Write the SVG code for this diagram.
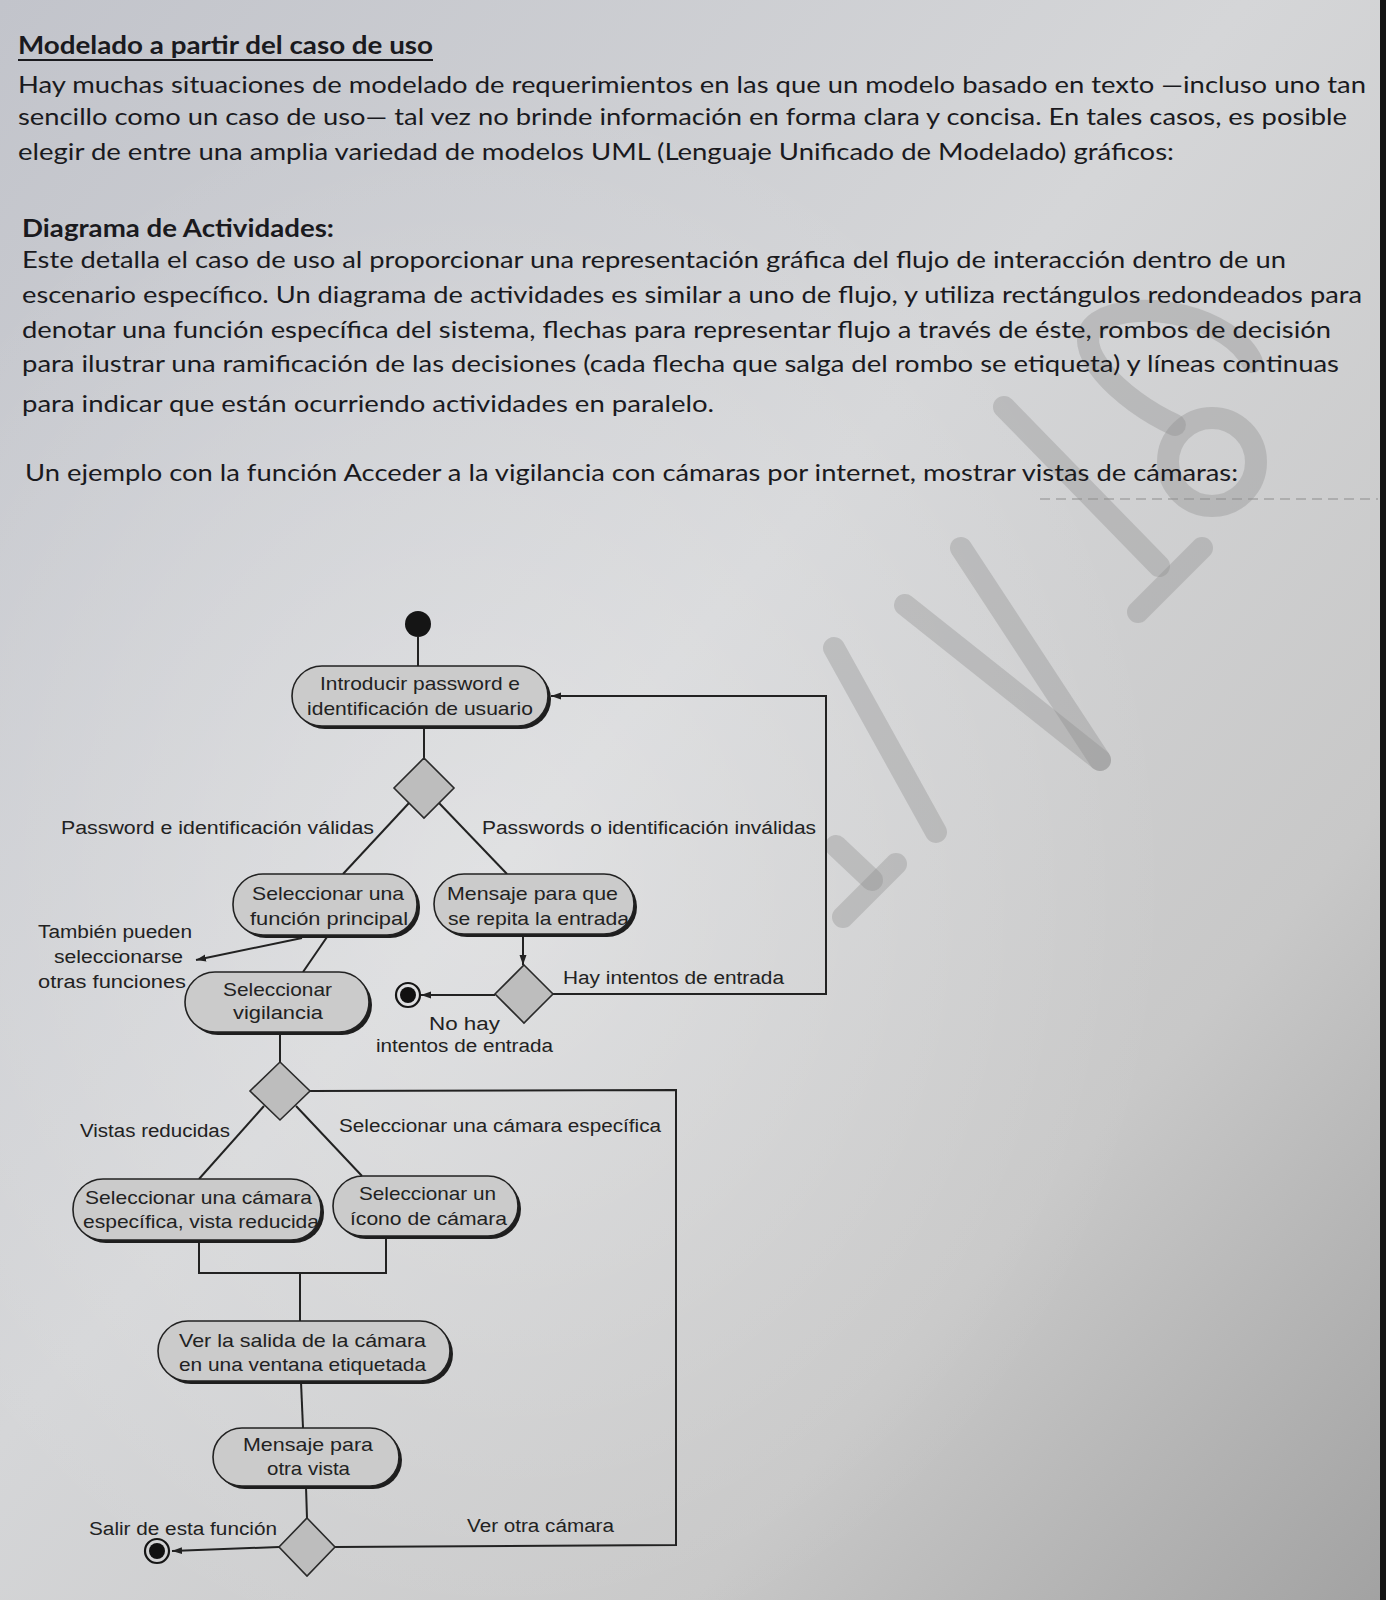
<svg xmlns="http://www.w3.org/2000/svg" width="1386" height="1600" viewBox="0 0 1386 1600">
<defs>
<linearGradient id="bg" x1="0" y1="0" x2="1" y2="1">
<stop offset="0" stop-color="#c2c4cb"/>
<stop offset="0.45" stop-color="#d5d6d8"/>
<stop offset="0.75" stop-color="#c8c8c8"/>
<stop offset="1" stop-color="#a2a2a2"/>
</linearGradient>
<radialGradient id="hl" cx="0.35" cy="0.55" r="0.5">
<stop offset="0" stop-color="#ffffff" stop-opacity="0.28"/>
<stop offset="1" stop-color="#ffffff" stop-opacity="0"/>
</radialGradient>
<marker id="arr" markerWidth="11" markerHeight="8" refX="10" refY="4" orient="auto" markerUnits="userSpaceOnUse">
<path d="M0,0.5 L10,4 L0,7.5 z" fill="#222"/>
</marker>
<style>
.p{font-family:Lato,"Open Sans","Liberation Sans",sans-serif;font-size:24px;fill:#1a1a1e}
.b{font-weight:bold}
.d{font-family:"Liberation Sans",Arial,sans-serif;font-size:18px;fill:#222}
.n{font-family:"Liberation Sans",Arial,sans-serif;font-size:19px;fill:#222}
.node{fill:#cbcbcb;stroke:#222;stroke-width:1.6}
.sh{fill:#1e1e1e}
.dia{fill:#bdbdbd;stroke:#2a2a2a;stroke-width:1.6}
.c{fill:none;stroke:#222;stroke-width:2}
.wm{fill:none;stroke:#8e8e8e;stroke-opacity:0.36;stroke-width:22;stroke-linecap:round}
</style>
</defs>
<rect width="1386" height="1600" fill="url(#bg)"/>
<rect width="1386" height="1600" fill="url(#hl)"/>
<rect x="1380" y="0" width="6" height="1600" fill="#141414"/>
<line x1="1040" y1="499" x2="1378" y2="499" stroke="#888" stroke-width="1.5" stroke-dasharray="10 6" opacity="0.6"/>

<g id="watermark">
<line class="wm" x1="1004" y1="407" x2="1159" y2="566"/>
<line class="wm" x1="1138" y1="612" x2="1202" y2="548"/>
<line class="wm" x1="905" y1="605" x2="1100" y2="760" stroke-width="20"/>
<line class="wm" x1="961" y1="548" x2="1100" y2="760" stroke-width="20"/>
<line class="wm" x1="834" y1="648" x2="936" y2="832" stroke-width="20"/>
<line class="wm" x1="896" y1="864" x2="843" y2="917" stroke-width="20"/>
<line class="wm" x1="836" y1="846" x2="872" y2="880" stroke-width="20"/>
<circle class="wm" cx="1212" cy="462" r="44" stroke-width="24"/>
<path class="wm" stroke-width="22" d="M1175,425 C1120,400 1065,345 1098,322 C1140,296 1232,318 1252,362"/>
</g>

<g id="text">
<text class="p b" x="18" y="54" textLength="415" lengthAdjust="spacingAndGlyphs">Modelado a partir del caso de uso</text>
<line x1="18" y1="60" x2="433" y2="60" stroke="#1a1a1e" stroke-width="2"/>
<text class="p" x="18" y="93" textLength="1348" lengthAdjust="spacingAndGlyphs">Hay muchas situaciones de modelado de requerimientos en las que un modelo basado en texto —incluso uno tan</text>
<text class="p" x="18" y="125" textLength="1329" lengthAdjust="spacingAndGlyphs">sencillo como un caso de uso— tal vez no brinde información en forma clara y concisa. En tales casos, es posible</text>
<text class="p" x="18" y="160" textLength="1156" lengthAdjust="spacingAndGlyphs">elegir de entre una amplia variedad de modelos UML (Lenguaje Unificado de Modelado) gráficos:</text>
<text class="p b" x="22" y="237" textLength="312" lengthAdjust="spacingAndGlyphs">Diagrama de Actividades:</text>
<text class="p" x="22" y="268" textLength="1264" lengthAdjust="spacingAndGlyphs">Este detalla el caso de uso al proporcionar una representación gráfica del flujo de interacción dentro de un</text>
<text class="p" x="22" y="303" textLength="1340" lengthAdjust="spacingAndGlyphs">escenario específico. Un diagrama de actividades es similar a uno de flujo, y utiliza rectángulos redondeados para</text>
<text class="p" x="22" y="338" textLength="1309" lengthAdjust="spacingAndGlyphs">denotar una función específica del sistema, flechas para representar flujo a través de éste, rombos de decisión</text>
<text class="p" x="22" y="372" textLength="1317" lengthAdjust="spacingAndGlyphs">para ilustrar una ramificación de las decisiones (cada flecha que salga del rombo se etiqueta) y líneas continuas</text>
<text class="p" x="22" y="412" textLength="692" lengthAdjust="spacingAndGlyphs">para indicar que están ocurriendo actividades en paralelo.</text>
<text class="p" x="25" y="481" textLength="1213" lengthAdjust="spacingAndGlyphs">Un ejemplo con la función Acceder a la vigilancia con cámaras por internet, mostrar vistas de cámaras:</text>
</g>

<g id="connectors">
<line class="c" x1="418" y1="637" x2="418" y2="666"/>
<line class="c" x1="424" y1="729" x2="424" y2="758"/>
<line class="c" x1="409" y1="803" x2="343" y2="874"/>
<line class="c" x1="439" y1="803" x2="507" y2="874"/>
<line class="c" x1="523" y1="936" x2="523" y2="965" marker-end="url(#arr)"/>
<line class="c" x1="495" y1="995" x2="421" y2="995" marker-end="url(#arr)"/>
<polyline class="c" points="553,994 826,994 826,696 551,696" marker-end="url(#arr)"/>
<line class="c" x1="302" y1="938" x2="196" y2="960" marker-end="url(#arr)"/>
<line class="c" x1="327" y1="937" x2="303" y2="972"/>
<line class="c" x1="280" y1="1033" x2="280" y2="1062"/>
<line class="c" x1="264" y1="1106" x2="199" y2="1179"/>
<line class="c" x1="296" y1="1106" x2="362" y2="1176"/>
<polyline class="c" points="199,1241 199,1273 386,1273 386,1237"/>
<line class="c" x1="300" y1="1273" x2="300" y2="1321"/>
<line class="c" x1="301" y1="1382" x2="303" y2="1428"/>
<line class="c" x1="306" y1="1487" x2="307" y2="1518"/>
<line class="c" x1="279" y1="1547" x2="172" y2="1551" marker-end="url(#arr)"/>
<polyline class="c" points="335,1547 676,1545 676,1090 310,1091"/>
</g>

<g id="labels">
<text class="d" x="61" y="834" textLength="313" lengthAdjust="spacingAndGlyphs">Password e identificación válidas</text>
<text class="d" x="482" y="834" textLength="334" lengthAdjust="spacingAndGlyphs">Passwords o identificación inválidas</text>
<text class="d" x="38" y="938" textLength="154" lengthAdjust="spacingAndGlyphs">También pueden</text>
<text class="d" x="54" y="963" textLength="129" lengthAdjust="spacingAndGlyphs">seleccionarse</text>
<text class="d" x="38" y="988" textLength="148" lengthAdjust="spacingAndGlyphs">otras funciones</text>
<text class="d" x="563" y="984" textLength="221" lengthAdjust="spacingAndGlyphs">Hay intentos de entrada</text>
<text class="d" x="429" y="1030" textLength="71" lengthAdjust="spacingAndGlyphs">No hay</text>
<text class="d" x="376" y="1052" textLength="177" lengthAdjust="spacingAndGlyphs">intentos de entrada</text>
<text class="d" x="80" y="1137" textLength="150" lengthAdjust="spacingAndGlyphs">Vistas reducidas</text>
<text class="d" x="339" y="1132" textLength="322" lengthAdjust="spacingAndGlyphs">Seleccionar una cámara específica</text>
<text class="d" x="89" y="1535" textLength="188" lengthAdjust="spacingAndGlyphs">Salir de esta función</text>
<text class="d" x="467" y="1532" textLength="147" lengthAdjust="spacingAndGlyphs">Ver otra cámara</text>
</g>

<g id="start"><circle cx="418" cy="624" r="13" fill="#151515"/></g>

<g id="n1">
<rect class="sh" x="295" y="669" width="256" height="60" rx="30"/>
<rect class="node" x="292" y="666" width="256" height="60" rx="30"/>
<text class="n" x="320" y="690" textLength="200" lengthAdjust="spacingAndGlyphs">Introducir password e</text>
<text class="n" x="307" y="715" textLength="226" lengthAdjust="spacingAndGlyphs">identificación de usuario</text>
</g>

<g id="d1"><polygon class="dia" points="424,758 454,788 424,818 394,788"/></g>

<g id="n2">
<rect class="sh" x="236" y="877" width="184" height="61" rx="30"/>
<rect class="node" x="233" y="874" width="184" height="61" rx="30"/>
<text class="n" x="252" y="900" textLength="152" lengthAdjust="spacingAndGlyphs">Seleccionar una</text>
<text class="n" x="250" y="925" textLength="158" lengthAdjust="spacingAndGlyphs">función principal</text>
</g>

<g id="n3">
<rect class="sh" x="437" y="877" width="200" height="60" rx="30"/>
<rect class="node" x="434" y="874" width="200" height="60" rx="30"/>
<text class="n" x="447" y="900" textLength="171" lengthAdjust="spacingAndGlyphs">Mensaje para que</text>
<text class="n" x="448" y="925" textLength="181" lengthAdjust="spacingAndGlyphs">se repita la entrada</text>
</g>

<g id="d2"><polygon class="dia" points="524,965 553,994 524,1023 495,994"/></g>

<g id="end1">
<circle cx="408" cy="995" r="12" fill="none" stroke="#151515" stroke-width="2.2"/>
<circle cx="408" cy="995" r="8" fill="#111"/>
</g>

<g id="n4">
<rect class="sh" x="188" y="975" width="184" height="60" rx="30"/>
<rect class="node" x="185" y="972" width="184" height="60" rx="30"/>
<text class="n" x="223" y="996" textLength="109" lengthAdjust="spacingAndGlyphs">Seleccionar</text>
<text class="n" x="233" y="1019" textLength="90" lengthAdjust="spacingAndGlyphs">vigilancia</text>
</g>

<g id="d3"><polygon class="dia" points="280,1062 310,1091 280,1120 250,1091"/></g>

<g id="n5">
<rect class="sh" x="76" y="1182" width="248" height="61" rx="30"/>
<rect class="node" x="73" y="1179" width="248" height="61" rx="30"/>
<text class="n" x="85" y="1204" textLength="227" lengthAdjust="spacingAndGlyphs">Seleccionar una cámara</text>
<text class="n" x="83" y="1228" textLength="236" lengthAdjust="spacingAndGlyphs">específica, vista reducida</text>
</g>

<g id="n6">
<rect class="sh" x="336" y="1179" width="185" height="60" rx="30"/>
<rect class="node" x="333" y="1176" width="185" height="60" rx="30"/>
<text class="n" x="359" y="1200" textLength="137" lengthAdjust="spacingAndGlyphs">Seleccionar un</text>
<text class="n" x="350" y="1225" textLength="157" lengthAdjust="spacingAndGlyphs">ícono de cámara</text>
</g>

<g id="n7">
<rect class="sh" x="161" y="1324" width="292" height="60" rx="30"/>
<rect class="node" x="158" y="1321" width="292" height="60" rx="30"/>
<text class="n" x="179" y="1347" textLength="247" lengthAdjust="spacingAndGlyphs">Ver la salida de la cámara</text>
<text class="n" x="179" y="1371" textLength="247" lengthAdjust="spacingAndGlyphs">en una ventana etiquetada</text>
</g>

<g id="n8">
<rect class="sh" x="216" y="1431" width="186" height="58" rx="29"/>
<rect class="node" x="213" y="1428" width="186" height="58" rx="29"/>
<text class="n" x="243" y="1451" textLength="130" lengthAdjust="spacingAndGlyphs">Mensaje para</text>
<text class="n" x="267" y="1475" textLength="83" lengthAdjust="spacingAndGlyphs">otra vista</text>
</g>

<g id="d4"><polygon class="dia" points="307,1518 335,1547 307,1576 279,1547"/></g>

<g id="end2">
<circle cx="157" cy="1551" r="12" fill="none" stroke="#151515" stroke-width="2.2"/>
<circle cx="157" cy="1551" r="8" fill="#111"/>
</g>
</svg>
